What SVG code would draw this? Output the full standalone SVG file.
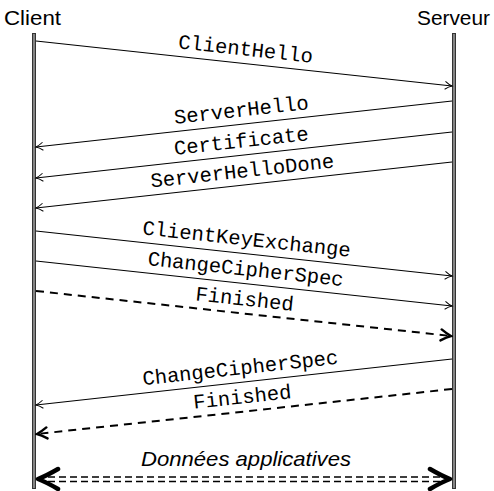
<svg xmlns="http://www.w3.org/2000/svg" width="494" height="491" viewBox="0 0 494 491">
  <style>
    .actor { font-family: "Liberation Sans", "DejaVu Sans", sans-serif; font-size: 21px; fill: #000; }
    .msg { font-family: "Liberation Mono", "DejaVu Sans Mono", monospace; font-size: 20.5px; fill: #000; text-anchor: middle; }
    .data { font-family: "Liberation Sans", "DejaVu Sans", sans-serif; font-size: 21px; font-style: italic; fill: #000; text-anchor: middle; }
    .thin { fill: none; stroke: #000; stroke-width: 1.1; marker-end: url(#tip); }
    .dash { fill: none; stroke: #000; stroke-width: 2; stroke-dasharray: 8 6; marker-end: url(#tipBold); }
    .dbl { fill: none; stroke: #000; stroke-width: 1.6; stroke-dasharray: 7 4; }
    .chev { fill: none; stroke: #000; stroke-width: 4.5; stroke-linecap: round; stroke-linejoin: round; }
  </style>
  <defs>
    <marker id="tip" markerUnits="userSpaceOnUse" viewBox="-9 -6 11 12" markerWidth="11" markerHeight="12" refX="0" refY="0" orient="auto">
      <path d="M -7,-4 Q -3,-1 0,0 Q -3,1 -7,4" fill="none" stroke="#000" stroke-width="1"/>
    </marker>
    <marker id="tipBold" markerUnits="userSpaceOnUse" viewBox="-13 -8 15 16" markerWidth="15" markerHeight="16" refX="0" refY="0" orient="auto">
      <path d="M -10,-5.5 Q -4,-1.5 0,0 Q -4,1.5 -10,5.5" fill="none" stroke="#000" stroke-width="2.4" stroke-linecap="round"/>
    </marker>
  </defs>

  <!-- participants -->
  <g id="client">
    <text class="actor" x="4" y="25" textLength="57" lengthAdjust="spacingAndGlyphs">Client</text>
    <line x1="34" y1="33" x2="34" y2="489" stroke="#333" stroke-width="4"/>
    <line x1="34" y1="34" x2="34" y2="488" stroke="#999" stroke-width="1.6"/>
  </g>
  <g id="serveur">
    <text class="actor" x="417" y="25" textLength="73" lengthAdjust="spacingAndGlyphs">Serveur</text>
    <line x1="454" y1="33" x2="454" y2="489" stroke="#333" stroke-width="4"/>
    <line x1="454" y1="34" x2="454" y2="488" stroke="#999" stroke-width="1.6"/>
  </g>

  <!-- messages -->
  <g id="connectors">
    <line class="thin" x1="36" y1="41" x2="452" y2="86"/>
    <line class="thin" x1="452" y1="101" x2="36" y2="147"/>
    <line class="thin" x1="452" y1="132" x2="36" y2="178"/>
    <line class="thin" x1="452" y1="162" x2="36" y2="208"/>
    <line class="thin" x1="36" y1="231" x2="452" y2="276"/>
    <line class="thin" x1="36" y1="261" x2="452" y2="306"/>
    <line class="dash" x1="36" y1="291" x2="451" y2="336"/>
    <line class="thin" x1="452" y1="359" x2="36" y2="405"/>
    <line class="dash" x1="452" y1="389" x2="37" y2="434"/>
    <!-- application data, both ways -->
    <line class="dbl" x1="48" y1="477" x2="442" y2="477"/>
    <line class="dbl" x1="48" y1="481.5" x2="442" y2="481.5"/>
    <path class="chev" d="M 58,469 Q 46,476 38,479 Q 46,482 58,489"/>
    <path class="chev" d="M 430,469 Q 442,476 450,479 Q 442,482 430,489"/>
  </g>

  <!-- labels -->
  <g id="labels">
    <text class="msg" transform="translate(245 55.5) rotate(6.17)">ClientHello</text>
    <text class="msg" transform="translate(242 116.5) rotate(-6.3)">ServerHello</text>
    <text class="msg" transform="translate(242 147.5) rotate(-6.3)">Certificate</text>
    <text class="msg" transform="translate(243 177.5) rotate(-6.3)">ServerHelloDone</text>
    <text class="msg" transform="translate(246 245.5) rotate(6.17)">ClientKeyExchange</text>
    <text class="msg" transform="translate(245 275.5) rotate(6.17)">ChangeCipherSpec</text>
    <text class="msg" transform="translate(244 305.5) rotate(6.17)">Finished</text>
    <text class="msg" transform="translate(241 374.5) rotate(-6.3)">ChangeCipherSpec</text>
    <text class="msg" transform="translate(243 403.5) rotate(-6.17)">Finished</text>
    <text class="data" x="246" y="466" textLength="210" lengthAdjust="spacingAndGlyphs">Données applicatives</text>
  </g>
</svg>
